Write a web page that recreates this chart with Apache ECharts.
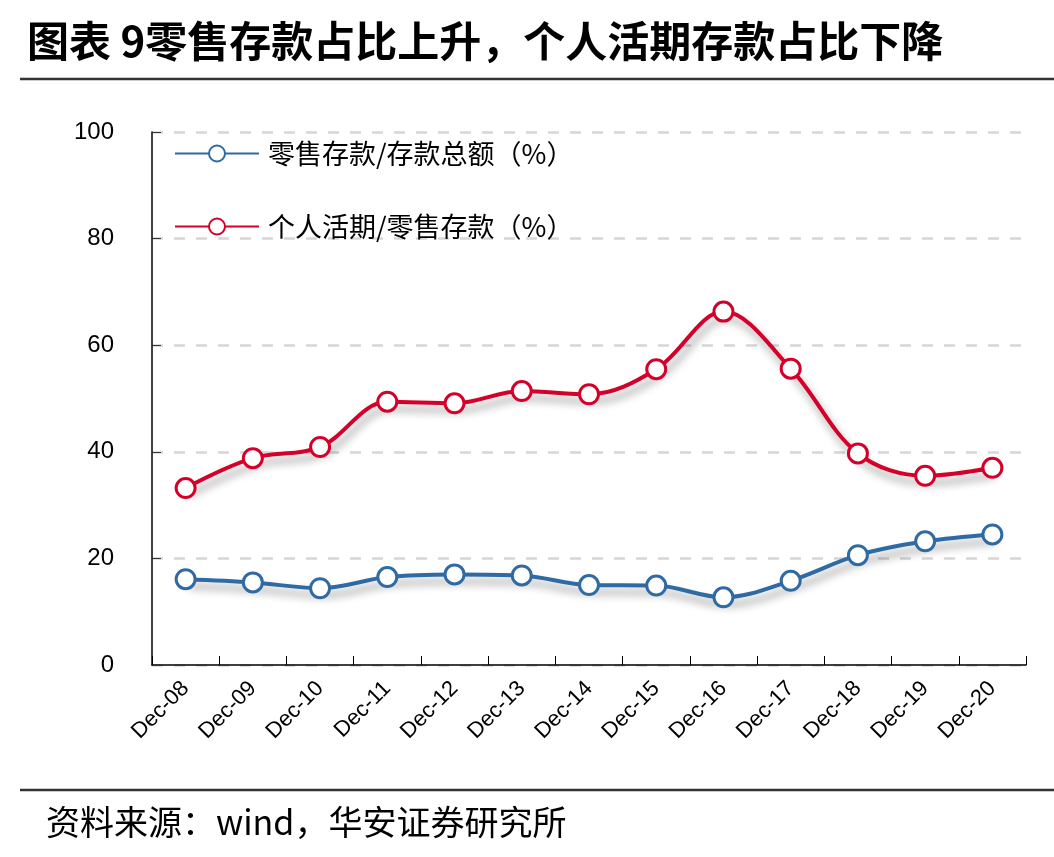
<!DOCTYPE html>
<html><head><meta charset="utf-8">
<script src="https://cdn.jsdelivr.net/npm/echarts@6/dist/echarts.min.js"></script>
<style>html,body{margin:0;padding:0;background:#fff}#c{width:1054px;height:857px}</style>
</head><body><div id="c"></div>
<script>
const categories = ['Dec-08','Dec-09','Dec-10','Dec-11','Dec-12','Dec-13','Dec-14','Dec-15','Dec-16','Dec-17','Dec-18','Dec-19','Dec-20'];
const retailShare = [16.1,15.5,14.4,16.5,17.0,16.8,15.0,14.9,12.7,15.8,20.6,23.2,24.5];
const demandShare = [33.2,38.8,40.9,49.4,49.1,51.4,50.8,55.5,66.3,55.6,39.7,35.5,37.0];
const seriesNames = ['零售存款/存款总额（%）','个人活期/零售存款（%）'];
const yTicks = [0,20,40,60,80,100];

const chart = echarts.init(document.getElementById('c'));
const shadow = {shadowColor:'rgba(0,0,0,0.4)', shadowBlur:8, shadowOffsetX:3, shadowOffsetY:7};
function mk(name, data, color){
  return {
    name, type:'line', data, smooth:0.35,
    symbol:'circle', symbolSize:19,
    lineStyle:Object.assign({color, width:4}, shadow),
    itemStyle:{color:'#fff', borderColor:color, borderWidth:3},
    emphasis:{disabled:true}
  };
}
chart.setOption({
  animation:false,
  backgroundColor:'#fff',
  title:{
    text:'图表 9零售存款占比上升，个人活期存款占比下降',
    left:22, top:15,
    textStyle:{fontFamily:'Noto Sans CJK SC', fontWeight:'bold', fontSize:42, color:'#000'}
  },
  graphic:[
    {type:'line', shape:{x1:20,y1:79,x2:1054,y2:79}, style:{stroke:'#333', lineWidth:2.5}},
    {type:'line', shape:{x1:20,y1:790,x2:1054,y2:790}, style:{stroke:'#333', lineWidth:2.5}},
    {type:'text', left:46, top:805, style:{text:'资料来源：wind，华安证券研究所', fontFamily:'Noto Sans CJK SC', fontSize:34, fill:'#000'}}
  ],
  legend:{
    orient:'vertical', left:169, top:135,
    itemWidth:84, itemHeight:20, itemGap:46,
    data:seriesNames,
    textStyle:{fontFamily:'Noto Sans CJK SC', fontSize:27, color:'#000', padding:[0,0,0,4]}
  },
  grid:{left:152, right:28, top:132, bottom:192},
  xAxis:{
    type:'category', data:categories, boundaryGap:true,
    axisLine:{lineStyle:{color:'#000', width:1.5}},
    axisTick:{show:true, inside:true, length:9, lineStyle:{color:'#000'}},
    axisLabel:{rotate:45, margin:20, fontFamily:'Liberation Sans', fontSize:22, color:'#000', interval:0}
  },
  yAxis:{
    type:'value', min:yTicks[0], max:yTicks[yTicks.length-1], interval:20,
    axisLine:{show:true, lineStyle:{color:'#000', width:1.5}},
    axisTick:{show:true, inside:true, length:9, lineStyle:{color:'#333'}},
    axisLabel:{fontFamily:'Liberation Sans', fontSize:24, color:'#000', margin:38},
    splitLine:{show:true, lineStyle:{color:'#d6d6d6', width:2.5, type:[11,11]}}
  },
  series:[mk(seriesNames[0], retailShare, '#2f6aa3'), mk(seriesNames[1], demandShare, '#d4002a')]
});
</script></body></html>
